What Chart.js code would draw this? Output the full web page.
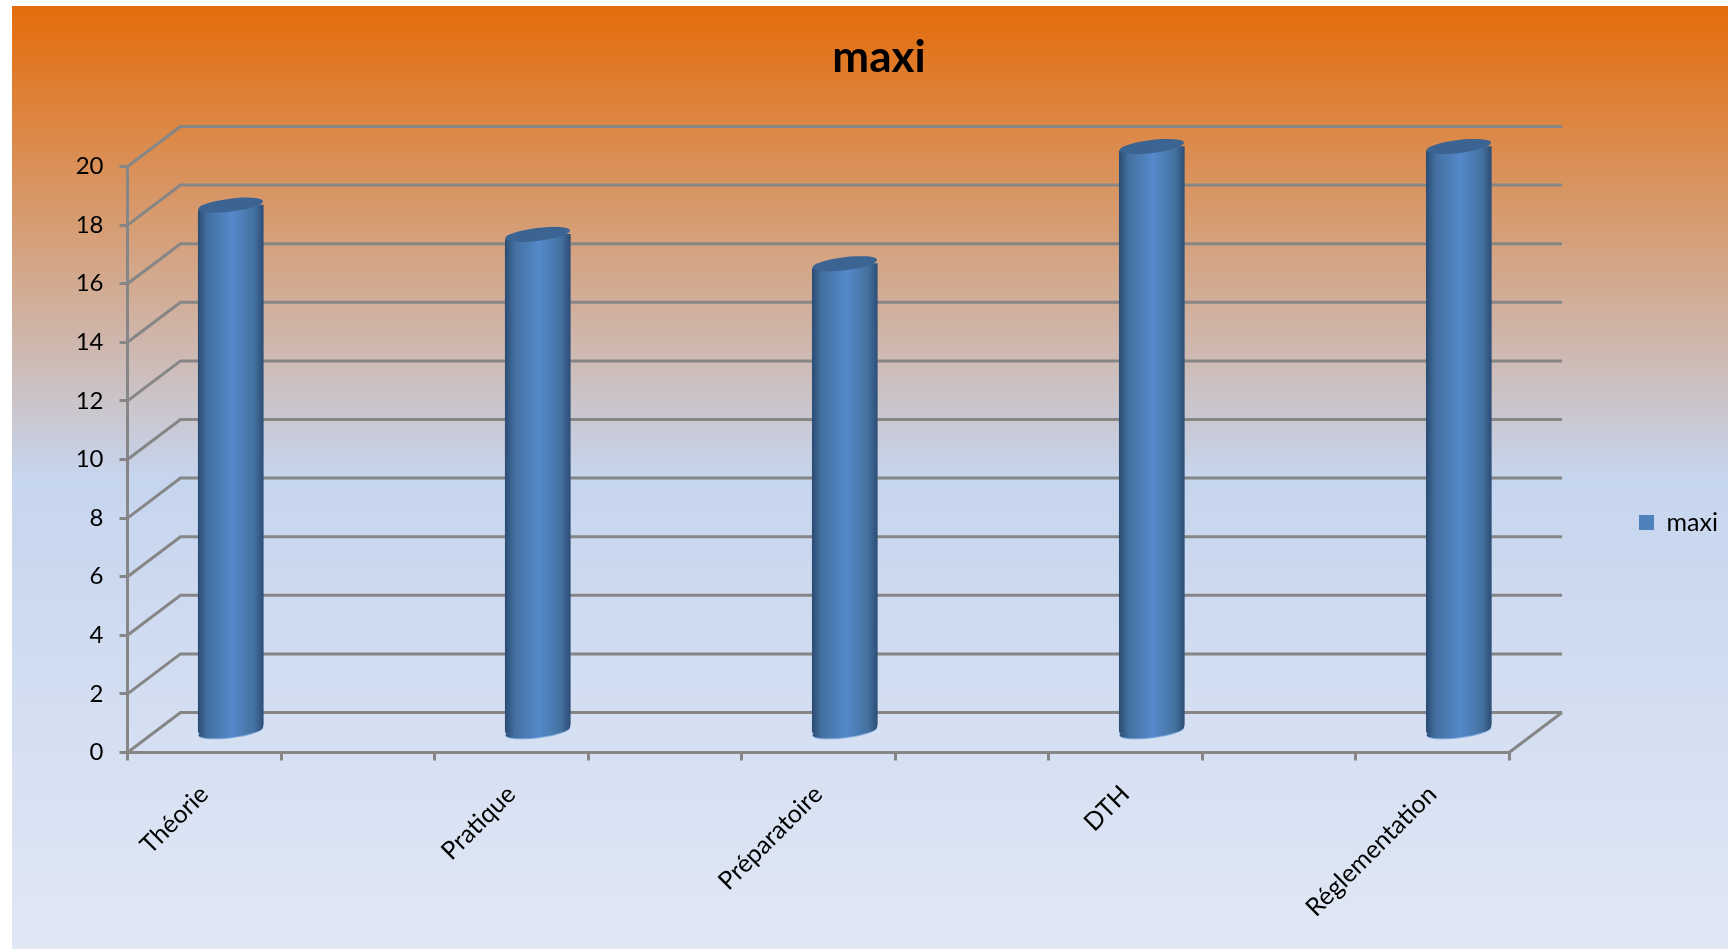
<!DOCTYPE html>
<html>
<head>
<meta charset="utf-8">
<title>maxi</title>
<script src="https://cdn.jsdelivr.net/npm/chart.js@4/dist/chart.umd.js"></script>
<style>
  html, body { margin: 0; background: #fff; }
  canvas { display: block; }
</style>
</head>
<body>
<canvas id="myChart" width="1728" height="949"></canvas>
<script>
// blank slots: the original sheet has empty rows between the categories
var categories = ["Théorie", "", "Pratique", "", "Préparatoire", "", "DTH", "", "Réglementation"];
var maxi = [18, null, 17, null, 16, null, 20, null, 20];

var depthX = 53, depthY = 40;   // fake 3d depth of the box
var gridColor = "#868686";
var font = "Lato, Carlito, sans-serif";

function barFill(ctx) {
  var chart = ctx.chart;
  var x = chart.scales.x.getPixelForValue(ctx.dataIndex);
  if (!isFinite(x)) return "#4f81bd";  // scales not laid out yet
  var g = chart.ctx.createLinearGradient(x - 32.5, 0, x + 32.5, 0);
  g.addColorStop(0, "#2b4c74");
  g.addColorStop(0.14, "#43709f");
  g.addColorStop(0.52, "#5589cb");
  g.addColorStop(0.86, "#44719f");
  g.addColorStop(1, "#2d4e77");
  return g;
}

// background panel, with the white strip at the top and left
var panel = {
  id: "panel",
  beforeDraw: function (chart) {
    var c = chart.ctx;
    var g = c.createLinearGradient(0, 6, 0, 949);
    g.addColorStop(0, "#e46c0a");
    g.addColorStop(0.5, "#c6d5ee");
    g.addColorStop(1, "#e1e8f5");
    c.fillStyle = g;
    c.fillRect(12, 6, 1716, 943);
  }
};

// back wall, side wall and floor
var walls = {
  id: "walls",
  beforeDatasetsDraw: function (chart) {
    var c = chart.ctx, y = chart.scales.y, area = chart.chartArea;
    c.save();
    c.strokeStyle = gridColor;
    c.lineWidth = 3;
    y.ticks.forEach(function (t) {
      var py = y.getPixelForValue(t.value);
      c.beginPath();
      c.moveTo(area.left, py);
      c.lineTo(area.left + depthX, py - depthY);
      c.lineTo(area.right + depthX, py - depthY);
      c.stroke();
    });
    var p0 = y.getPixelForValue(0);
    c.beginPath();
    c.moveTo(area.right, p0);
    c.lineTo(area.right + depthX, p0 - depthY);
    c.stroke();
    c.restore();
  }
};

// bars stand in the middle of the box, and get round ends
var cylinders = {
  id: "cylinders",
  beforeDatasetDraw: function (chart) {
    chart.ctx.save();
    chart.ctx.translate(depthX / 2, -depthY / 2);
  },
  afterDatasetDraw: function (chart, args) {
    var c = chart.ctx;
    args.meta.data.forEach(function (bar, i) {
      if (maxi[i] === null) return;
      var rx = bar.width / 2, tilt = -7 * Math.PI / 180;
      // underside, drawn first with a light rim
      c.fillStyle = "#7fa9dc";
      c.beginPath();
      c.ellipse(bar.x, bar.base + 0.8, rx, 6.5, tilt, 0, Math.PI * 2);
      c.fill();
      c.fillStyle = barFill({ chart: chart, dataIndex: i });
      c.fillRect(bar.x - rx, bar.base - 1, rx, 3);
      c.beginPath();
      c.ellipse(bar.x, bar.base, rx, 6.2, tilt, 0, Math.PI * 2);
      c.fill();
      // top
      c.fillStyle = "#3b6493";
      c.beginPath();
      c.ellipse(bar.x, bar.y, rx, 6.5, tilt, 0, Math.PI * 2);
      c.fill();
    });
    c.restore();
  }
};

// title and legend are not placed where the layout puts them
var spots = {
  id: "spots",
  afterLayout: function (chart) {
    var t = chart.titleBlock;
    t.left += 80; t.right += 80;
    var l = chart.legend, w = l.right - l.left;
    l.left = 1639; l.right = 1639 + w;
    l.top = 510; l.bottom = 535;
  }
};

new Chart(document.getElementById("myChart"), {
  type: "bar",
  data: {
    labels: categories,
    datasets: [{
      label: "maxi",
      data: maxi,
      backgroundColor: barFill,
      barThickness: 65,
      borderSkipped: false,
      borderRadius: { topLeft: 7, bottomRight: 7 },
      clip: false
    }]
  },
  plugins: [panel, walls, cylinders, spots],
  options: {
    responsive: false,
    animation: false,
    layout: { padding: { right: 130 } },
    scales: {
      x: {
        afterFit: function (s) { s.height = 196.5; },
        grid: { drawOnChartArea: false, color: gridColor, lineWidth: 3, tickLength: 8 },
        border: { color: gridColor, width: 3 },
        ticks: {
          autoSkip: false, minRotation: 45, maxRotation: 45, padding: 19,
          color: "#000", font: { family: font, size: 25 }
        }
      },
      y: {
        min: 0,
        max: 20,
        afterFit: function (s) { s.width = 127.5; },
        grid: { drawOnChartArea: false, color: gridColor, lineWidth: 3, tickLength: 8 },
        border: { color: gridColor, width: 3 },
        ticks: {
          stepSize: 2, padding: 16,
          color: "#000", font: { family: font, size: 24 }
        }
      }
    },
    plugins: {
      tooltip: { enabled: false },
      title: {
        display: true,
        text: "maxi",
        color: "#000",
        font: { family: font, size: 44, weight: "bold", lineHeight: 1 },
        padding: { top: 36, bottom: 86.5 }
      },
      legend: {
        position: "right",
        labels: {
          boxWidth: 15, boxHeight: 15, padding: 0,
          color: "#000", font: { family: font, size: 25 },
          generateLabels: function (chart) {
            return Chart.defaults.plugins.legend.labels.generateLabels(chart).map(function (item) {
              item.fillStyle = "#4f81bd";
              return item;
            });
          }
        }
      }
    }
  }
});
</script>
</body>
</html>
